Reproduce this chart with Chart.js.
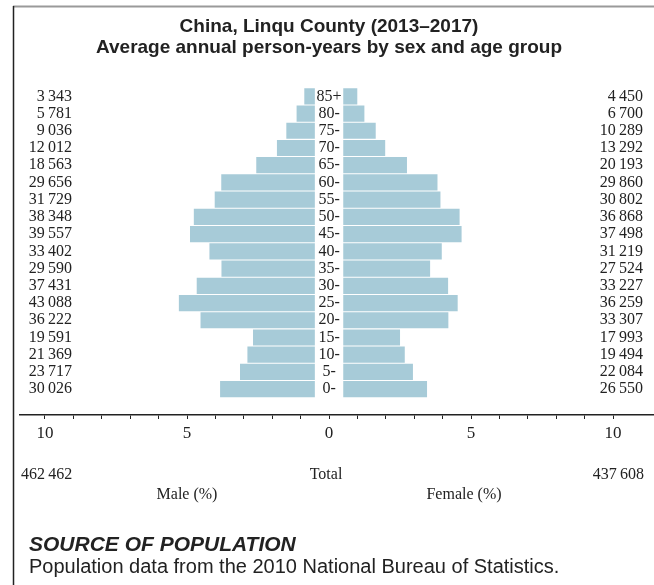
<!DOCTYPE html>
<html>
<head>
<meta charset="utf-8">
<script src="https://cdn.jsdelivr.net/npm/chart.js@4/dist/chart.umd.min.js"></script>
<style>
  html, body { margin: 0; padding: 0; background: #fff; }
  #wrap { position: relative; width: 654px; height: 585px; }
  canvas { display: block; }
</style>
</head>
<body>
<div id="wrap"><canvas id="c" width="654" height="585"></canvas></div>
<script>
// ---- Data ----
const ageGroups = ['85+','80-','75-','70-','65-','60-','55-','50-','45-','40-','35-','30-','25-','20-','15-','10-','5-','0-'];
const maleCounts = [3343,5781,9036,12012,18563,29656,31729,38348,39557,33402,29590,37431,43088,36222,19591,21369,23717,30026];
const femaleCounts = [4450,6700,10289,13292,20193,29860,30802,36868,37498,31219,27524,33227,36259,33307,17993,19494,22084,26550];
const maleTotal = 462462;
const femaleTotal = 437608;
const xTickValues = [-10,-5,0,5,10];

// ---- Derived ----
const grandTotal = maleTotal + femaleTotal;
const GAP = 0.5; // half-gap (axis units) for the central age labels
const malePct = maleCounts.map(v => v / grandTotal * 100);
const femalePct = femaleCounts.map(v => v / grandTotal * 100);
const fmt = n => String(n).replace(/\B(?=(\d{3})+(?!\d))/g, '\u2009');

const BAR = '#a7cbd8';
const TXT = '#222222';
const SERIF = '"Liberation Serif", "DejaVu Serif", serif';
const SANS = '"Liberation Sans", Arial, sans-serif';

const overlay = {
  id: 'overlay',
  afterDraw(chart) {
    const ctx = chart.ctx;
    const xs = chart.scales.x, ys = chart.scales.y;
    ctx.save();
    // frame
    ctx.strokeStyle = '#9a9a9a';
    ctx.lineWidth = 2;
    ctx.beginPath(); ctx.moveTo(13, 6.5); ctx.lineTo(654, 6.5); ctx.stroke();
    ctx.strokeStyle = '#222';
    ctx.lineWidth = 1.5;
    ctx.beginPath(); ctx.moveTo(13.5, 6); ctx.lineTo(13.5, 585); ctx.stroke();

    // title
    ctx.fillStyle = TXT;
    ctx.textAlign = 'center';
    ctx.textBaseline = 'middle';
    ctx.font = 'bold 19px ' + SANS;
    ctx.fillText('China, Linqu County (2013\u20132017)', 329, 27);
    ctx.fillText('Average annual person-years by sex and age group', 329, 48);

    // row labels
    ctx.font = '16px ' + SERIF;
    const x0 = xs.getPixelForValue(0);
    ageGroups.forEach((a, i) => {
      const y = ys.getPixelForValue(i);
      ctx.textAlign = 'center';
      ctx.fillText(a, x0, y);
      ctx.textAlign = 'right';
      ctx.fillText(fmt(maleCounts[i]), 72, y);
      ctx.fillText(fmt(femaleCounts[i]), 643, y);
    });

    // totals
    ctx.font = '16px ' + SERIF;
    ctx.textAlign = 'left';
    ctx.fillText(fmt(maleTotal), 21, 475);
    ctx.textAlign = 'right';
    ctx.fillText(fmt(femaleTotal), 644, 475);
    ctx.textAlign = 'center';
    ctx.fillText('Total', 326, 475);
    ctx.fillText('Male (%)', xs.getPixelForValue(-5), 495);
    ctx.fillText('Female (%)', 464, 495);

    // source
    ctx.textAlign = 'left';
    ctx.font = 'italic bold 21px ' + SANS;
    ctx.fillText('SOURCE OF POPULATION', 29, 545);
    ctx.font = '20px ' + SANS;
    ctx.fillText('Population data from the 2010 National Bureau of Statistics.', 29, 567);
    ctx.restore();
  }
};

new Chart(document.getElementById('c'), {
  type: 'bar',
  data: {
    datasets: [
      {
        label: 'Male',
        data: ageGroups.map((a, i) => ({ y: i, x: [-GAP - malePct[i], -GAP] })),
        backgroundColor: BAR,
        borderWidth: 0,
        grouped: false,
        barPercentage: 0.94,
        categoryPercentage: 1
      },
      {
        label: 'Female',
        data: ageGroups.map((a, i) => ({ y: i, x: [GAP, GAP + femalePct[i]] })),
        backgroundColor: BAR,
        borderWidth: 0,
        grouped: false,
        barPercentage: 0.94,
        categoryPercentage: 1
      }
    ]
  },
  options: {
    indexAxis: 'y',
    responsive: false,
    animation: false,
    devicePixelRatio: 1,
    layout: { padding: { top: 87.7, left: 20, right: 0, bottom: 0 } },
    plugins: { legend: { display: false }, title: { display: false }, tooltip: { enabled: false } },
    scales: {
      y: {
        type: 'linear',
        min: -0.5,
        max: 18.5,
        reverse: true,
        offset: false,
        display: false
      },
      x: {
        type: 'linear',
        position: 'bottom',
        min: -10.88,
        max: 11.44,
        afterFit: s => { s.height = 170; },
        afterBuildTicks: s => {
          const t = [];
          for (let v = xTickValues[0]; v <= xTickValues[xTickValues.length - 1]; v++) t.push({ value: v });
          s.ticks = t;
        },
        ticks: {
          autoSkip: false,
          maxRotation: 0,
          padding: 4,
          color: TXT,
          font: { family: SERIF, size: 17 },
          callback: v => xTickValues.includes(v) ? String(Math.abs(v)) : ''
        },
        grid: { display: true, drawOnChartArea: false, drawTicks: true, tickLength: 4, color: '#222', lineWidth: 1 },
        border: { display: true, color: '#222', width: 1.5 }
      }
    }
  },
  plugins: [overlay]
});
</script>
</body>
</html>
